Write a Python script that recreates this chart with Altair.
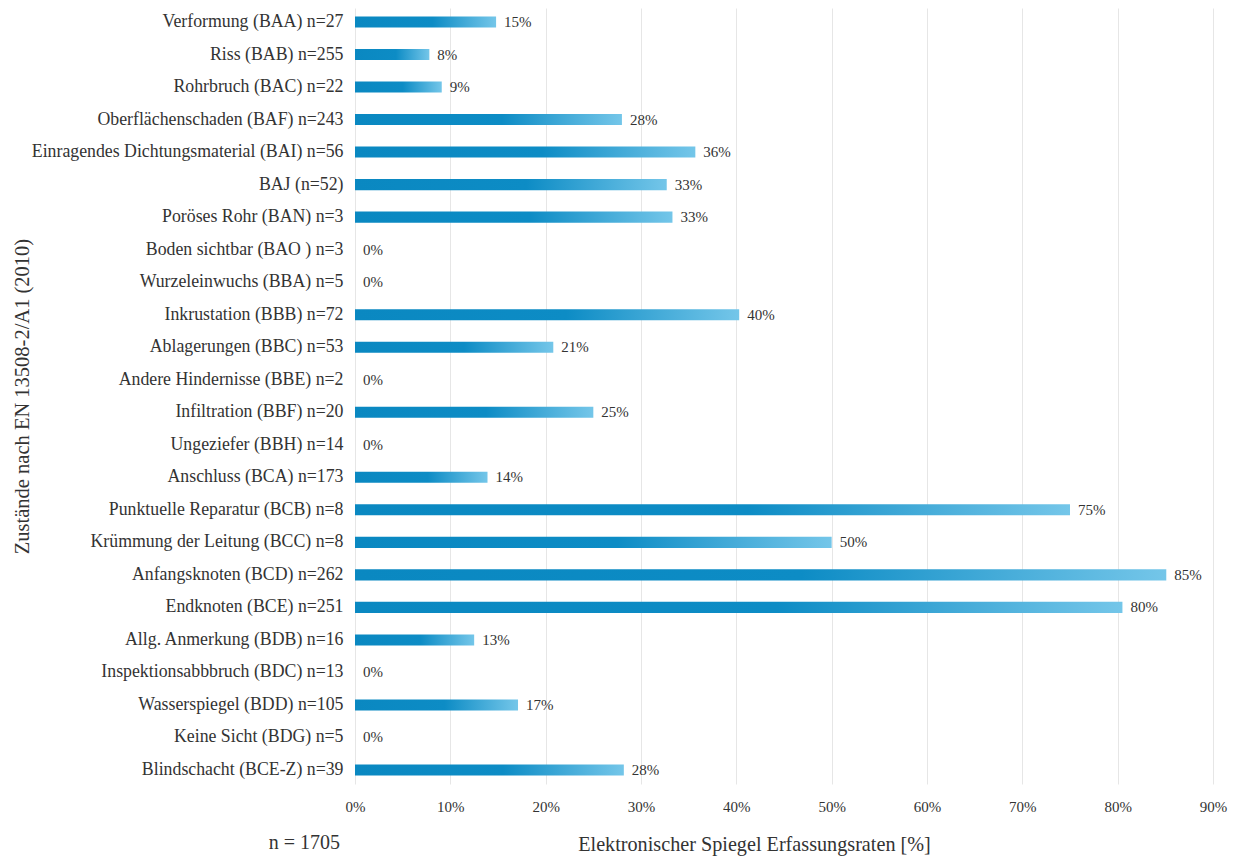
import altair as alt
import pandas as pd

categories = [
    "Verformung (BAA) n=27",
    "Riss (BAB) n=255",
    "Rohrbruch (BAC) n=22",
    "Oberflächenschaden (BAF) n=243",
    "Einragendes Dichtungsmaterial (BAI) n=56",
    "BAJ (n=52)",
    "Poröses Rohr (BAN) n=3",
    "Boden sichtbar (BAO ) n=3",
    "Wurzeleinwuchs (BBA) n=5",
    "Inkrustation (BBB) n=72",
    "Ablagerungen (BBC) n=53",
    "Andere Hindernisse (BBE) n=2",
    "Infiltration (BBF) n=20",
    "Ungeziefer (BBH) n=14",
    "Anschluss (BCA) n=173",
    "Punktuelle Reparatur (BCB) n=8",
    "Krümmung der Leitung (BCC) n=8",
    "Anfangsknoten (BCD) n=262",
    "Endknoten (BCE) n=251",
    "Allg. Anmerkung (BDB) n=16",
    "Inspektionsabbbruch (BDC) n=13",
    "Wasserspiegel (BDD) n=105",
    "Keine Sicht (BDG) n=5",
    "Blindschacht (BCE-Z) n=39",
]
values = [14.8, 7.8, 9.1, 28.0, 35.7, 32.7, 33.3, 0, 0, 40.3, 20.8, 0, 25.0, 0,
          13.9, 75.0, 50.0, 85.1, 80.5, 12.5, 0, 17.1, 0, 28.2]
labels = ["15%", "8%", "9%", "28%", "36%", "33%", "33%", "0%", "0%", "40%", "21%",
          "0%", "25%", "0%", "14%", "75%", "50%", "85%", "80%", "13%", "0%", "17%",
          "0%", "28%"]
x_ticks = [0, 10, 20, 30, 40, 50, 60, 70, 80, 90]

df = pd.DataFrame({"cat": categories, "val": values, "lab": labels})

FONT = "Liberation Serif"
TXT = "#333333"

y_enc = alt.Y(
    "cat:N", sort=categories,
    scale=alt.Scale(paddingInner=0.66, paddingOuter=0.26),
    axis=alt.Axis(title="Zustände nach EN 13508-2/A1 (2010)", labelFont=FONT,
                  labelFontSize=17.8, labelColor=TXT, labelPadding=12, ticks=False,
                  domain=False, labelLimit=400, titleFont=FONT, titleFontSize=20.5,
                  titleFontWeight="normal", titleColor=TXT, titleX=-333,
                  titleAngle=-90, titleAlign="center", titleBaseline="middle"),
)
x_enc = alt.X(
    "val:Q", scale=alt.Scale(domain=[0, 90], nice=False),
    axis=alt.Axis(values=x_ticks, labelExpr="datum.value + '%'",
                  labelFlush=False, labelOverlap=False,
                  title="Elektronischer Spiegel Erfassungsraten [%]",
                  labelFont=FONT, labelFontSize=15, labelColor=TXT, labelPadding=15,
                  ticks=False, domain=False, grid=True, gridColor="#e6e6e6",
                  titleFont=FONT, titleFontSize=20.2, titleFontWeight="normal",
                  titleColor=TXT, titleX=399, titleY=66, titleAlign="center",
                  titleBaseline="alphabetic"),
)

bars = alt.Chart(df).mark_bar(
    color=alt.Gradient(
        gradient="linear", x1=0, x2=1, y1=0, y2=0,
        stops=[alt.GradientStop(color="#0a88c1", offset=0),
               alt.GradientStop(color="#0d8cc5", offset=0.55),
               alt.GradientStop(color="#74c6e9", offset=1)],
    )
).encode(y=y_enc, x=x_enc)

text = alt.Chart(df).mark_text(
    align="left", baseline="middle", dx=8, font=FONT, fontSize=15, color=TXT
).encode(y=alt.Y("cat:N", sort=categories), x="val:Q", text="lab:N")

note = alt.Chart(pd.DataFrame({"t": ["n = 1705"]})).mark_text(
    align="right", baseline="alphabetic", font=FONT, fontSize=20, color=TXT
).encode(x=alt.value(-15), y=alt.value(841), text="t:N")

chart = alt.layer(bars, text, note).properties(
    width=858, height=776,
    autosize=alt.AutoSizeParams(type="none"),
    padding={"left": 347, "top": 0, "right": 15, "bottom": 72},
).configure(font=FONT).configure_view(stroke=None)

chart.save("out.html", embed_options={"renderer": "svg", "actions": False})
